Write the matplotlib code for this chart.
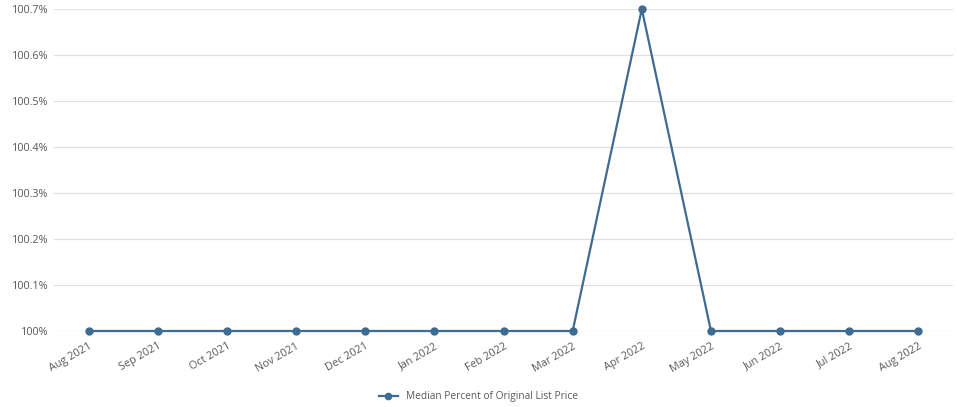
import matplotlib
matplotlib.use("Agg")
import matplotlib.pyplot as plt
from matplotlib.ticker import FuncFormatter

# data
months = ["Aug 2021", "Sep 2021", "Oct 2021", "Nov 2021", "Dec 2021", "Jan 2022",
          "Feb 2022", "Mar 2022", "Apr 2022", "May 2022", "Jun 2022", "Jul 2022", "Aug 2022"]
median_pct = [100, 100, 100, 100, 100, 100, 100, 100, 100.7, 100, 100, 100, 100]
yticks = [100, 100.1, 100.2, 100.3, 100.4, 100.5, 100.6, 100.7]

plt.rcParams['font.family'] = ['Open Sans', 'DejaVu Sans']

line_col = '#3f6b91'
text_col = '#595959'

fig = plt.figure(figsize=(9.57, 4.07), dpi=100)
ax = fig.add_axes([54/957, 76/407, 899/957, 322/407])

x = list(range(len(months)))
ax.plot(x, median_pct, color=line_col, lw=1.6, marker='o', ms=5,
        label='Median Percent of Original List Price', zorder=3, clip_on=False)

ax.set_xlim(-0.5, 12.5)
ax.set_ylim(100, 100.7)
ax.set_yticks(yticks)

def fmt(v, pos):
    s = ('%.1f' % v).rstrip('0').rstrip('.')
    return s + '%'
ax.yaxis.set_major_formatter(FuncFormatter(fmt))

ax.set_xticks(x)
ax.set_xticklabels(months, rotation=30, ha='right', rotation_mode='anchor')
ax.tick_params(axis='both', length=0, labelsize=7.8, colors=text_col)
ax.tick_params(axis='x', pad=7)
ax.tick_params(axis='y', pad=4)

ax.grid(axis='y', color='#e0e0e0', lw=0.9, zorder=0)
for s in ax.spines.values():
    s.set_visible(False)

fig.legend(loc='center', bbox_to_anchor=(0.5, 1 - 397/407), frameon=False,
           fontsize=7.3, labelcolor=text_col, handlelength=1.8, markerscale=0.9)

fig.savefig('out.png', dpi=100)
